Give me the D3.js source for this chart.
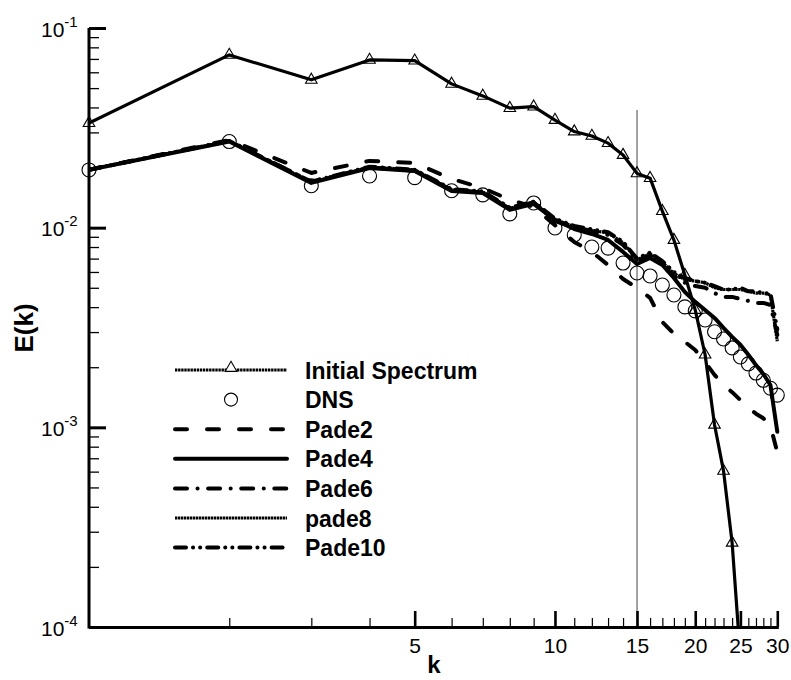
<!DOCTYPE html>
<html><head><meta charset="utf-8">
<script src="https://cdn.jsdelivr.net/npm/d3@7"></script>
<style>
body{margin:0;background:#fff}
text{font-family:"Liberation Sans",Arial,Helvetica,sans-serif;fill:#000}
</style>
</head><body>
<svg id="chart" width="791" height="680"></svg>
<script>
// ---------- data ----------
const kValues = [1,2,3,4,5,6,7,8,9,10,11,12,13,14,15,16,17,18,19,20,21,22,23,24,25,26,27,28,29,30];
const kInitial = [1,2,3,4,5,6,7,8,9,10,11,12,13,14,15,16,17,18,19,20,21,22,23,24,25];
const initialSpectrum = [0.0334,0.0733,0.0550,0.0692,0.0686,0.0525,0.0457,0.0397,0.0404,0.0346,0.0303,0.0288,0.0265,0.0231,0.0187,0.0177,0.0121,0.00867,0.00579,0.00387,0.00231,0.00103,0.000605,0.000264,0.00007];
const dns = [0.01946,0.0270,0.01622,0.01815,0.0178,0.01531,0.01459,0.01172,0.0133,0.00997,0.00919,0.0080,0.0079,0.00665,0.00593,0.00573,0.00516,0.0046,0.00401,0.00383,0.00345,0.00301,0.00277,0.0025,0.00225,0.00208,0.00187,0.00172,0.00157,0.00145];
const pade2 = [0.0195,0.0275,0.0188,0.0216,0.0211,0.01755,0.0158,0.0138,0.0127,0.0103,0.00848,0.00756,0.0065,0.00553,0.00499,0.00445,0.00337,0.00294,0.00268,0.00244,0.00212,0.00183,0.00163,0.0015,0.00137,0.00125,0.00117,0.00111,0.00102,0.00075];
const pade4 = [0.0195,0.0270,0.01675,0.01991,0.01923,0.01527,0.01492,0.01227,0.01315,0.01094,0.00985,0.0093,0.00868,0.00756,0.00658,0.00705,0.0065,0.0056,0.00476,0.00425,0.00387,0.00353,0.00315,0.00284,0.00259,0.00231,0.00205,0.00185,0.00163,0.00095];
const pade6 = [0.0195,0.0272,0.0170,0.0200,0.0193,0.0154,0.0150,0.0124,0.0134,0.0108,0.0100,0.0096,0.0092,0.0082,0.0068,0.0073,0.0065,0.0057,0.0053,0.0051,0.0050,0.0047,0.0045,0.0045,0.0044,0.0043,0.0042,0.0042,0.0041,0.0029];
const pade8 = [0.0195,0.0272,0.0169,0.0201,0.0195,0.0155,0.0151,0.0125,0.0134,0.0110,0.0101,0.0097,0.0094,0.0084,0.0069,0.0074,0.0067,0.0059,0.0055,0.0054,0.0053,0.0050,0.0049,0.0049,0.0049,0.0048,0.0047,0.0047,0.0046,0.0027];
const pade10 = [0.0195,0.0272,0.0170,0.0202,0.0195,0.0156,0.0152,0.0126,0.0135,0.0111,0.0102,0.0098,0.0095,0.0085,0.0070,0.0075,0.0068,0.0060,0.0056,0.0054,0.0053,0.0051,0.0049,0.0049,0.0050,0.0048,0.0048,0.0047,0.0047,0.0031];
const xMajorTicks = [5,10,15,20,25,30];
const xMinorTicks = [2,3,4,6,7,8,9,11,12,13,14,16,17,18,19,21,22,23,24,26,27,28,29];
const yMajorTicks = [1e-1,1e-2,1e-3,1e-4];
const yTickExponents = ["-1","-2","-3","-4"];
const markerK = 15;
const legendLabels = ["Initial Spectrum","DNS","Pade2","Pade4","Pade6","pade8","Pade10"];

// ---------- layout ----------
const svg = d3.select("#chart");
const x = d3.scaleLog().domain([1, 30.15]).range([89, 778.3]);
const y = d3.scaleLog().domain([1e-4, 1e-1]).range([627, 28]);
const yMinorTicks = [];
[1e-4,1e-3,1e-2].forEach(b => { for (let m=2;m<=9;m++) yMinorTicks.push(b*m); });

svg.append("defs").append("clipPath").attr("id","plotClip")
  .append("rect").attr("x",x.range()[0]).attr("y",y.range()[1])
  .attr("width",x.range()[1]-x.range()[0]+2).attr("height",y.range()[0]-y.range()[1]);

// vertical reference line at k=15
svg.append("line")
  .attr("x1",x(markerK)).attr("x2",x(markerK))
  .attr("y1",110).attr("y2",y.range()[0])
  .attr("stroke","#555").attr("stroke-width",1.1);

// ---------- axes ----------
const xMinorAxis = d3.axisBottom(x).tickValues(xMinorTicks).tickSize(-9).tickSizeOuter(0).tickFormat("");
const xMinorG = svg.append("g").attr("transform",`translate(0,${y.range()[0]})`).call(xMinorAxis);
xMinorG.select(".domain").remove();
xMinorG.selectAll(".tick line").attr("stroke-width",1.2);

const xAxis = d3.axisBottom(x).tickValues(xMajorTicks).tickSize(-16).tickSizeOuter(0)
  .tickPadding(11).tickFormat(d3.format("d"));
const xG = svg.append("g").attr("transform",`translate(0,${y.range()[0]})`).call(xAxis);
xG.select(".domain").attr("stroke-width",3);
xG.selectAll(".tick line").attr("stroke-width",2.6);
xG.selectAll(".tick text").attr("font-size",21).attr("font-family",null);

const yMinorAxis = d3.axisLeft(y).tickValues(yMinorTicks).tickSize(-10).tickSizeOuter(0).tickFormat("");
const yMinorG = svg.append("g").attr("transform",`translate(${x.range()[0]},0)`).call(yMinorAxis);
yMinorG.select(".domain").remove();
yMinorG.selectAll(".tick line").attr("stroke-width",1.3);

const yAxis = d3.axisLeft(y).tickValues(yMajorTicks).tickSize(-17).tickSizeOuter(0).tickFormat("");
const yG = svg.append("g").attr("transform",`translate(${x.range()[0]},0)`).call(yAxis);
yG.select(".domain").attr("stroke-width",3).attr("d",`M0,${y.range()[0]+1.5}V${y.range()[1]}`);
yG.selectAll(".tick line").attr("stroke-width",3);
yG.selectAll(".tick text").remove();
yG.selectAll(".tick").each(function(d,i){
  const t = d3.select(this).append("text")
    .attr("x",-48).attr("y",8).attr("text-anchor","start")
    .attr("font-size",21).attr("fill","#000");
  t.append("tspan").text("10");
  t.append("tspan").attr("dy",-10).attr("font-size",15).text(yTickExponents[i]);
});

// axis titles
svg.append("text").attr("x",434).attr("y",673).attr("text-anchor","middle")
  .attr("font-size",24).attr("font-weight","bold").text("k");
svg.append("text").attr("transform","translate(33,328) rotate(-90)").attr("text-anchor","middle")
  .attr("font-size",26).attr("font-weight","bold").text("E(k)");

// ---------- series ----------
const styles = {
  init:  {width:3.2, dash:null, cap:"butt"},
  initLegend: {width:3, dash:"2.4,0.7", cap:"butt"},
  pade2: {width:4, dash:"12,20", cap:"round"},
  pade4: {width:4, dash:null, cap:"round"},
  pade6: {width:4, dash:"12,10.5,0.1,10.5", cap:"round"},
  pade8: {width:3.2, dash:"2.4,0.6", cap:"butt"},
  pade10:{width:4, dash:"11,7,0.1,7,0.1,7", cap:"round"}
};
const line = d3.line().x(d=>x(d.k)).y(d=>y(d.v));
const plot = svg.append("g");
const linesG = plot.append("g").attr("clip-path","url(#plotClip)");

function drawLine(ks, vs, st){
  const data = ks.map((k,i)=>({k, v:vs[i]}));
  linesG.append("path").datum(data).attr("d",line)
    .attr("fill","none").attr("stroke","#000")
    .attr("stroke-width",st.width).attr("stroke-dasharray",st.dash)
    .attr("stroke-linecap",st.cap).attr("stroke-linejoin","round");
}

plot.append("g").selectAll("circle")
  .data(kValues.map((k,i)=>({k, v:dns[i]})))
  .join("circle").attr("cx",d=>x(d.k)).attr("cy",d=>y(d.v)).attr("r",7)
  .attr("fill","none").attr("stroke","#000").attr("stroke-width",1.1);

drawLine(kInitial, initialSpectrum, styles.init);
drawLine(kValues, pade2, styles.pade2);
drawLine(kValues, pade4, styles.pade4);
drawLine(kValues, pade6, styles.pade6);
drawLine(kValues, pade8, styles.pade8);
drawLine(kValues, pade10, styles.pade10);

const tri = d3.symbol().type(d3.symbolTriangle).size(58);
plot.append("g").selectAll("path")
  .data(kInitial.map((k,i)=>({k, v:initialSpectrum[i]})).filter(d=>d.v>=1e-4))
  .join("path").attr("d",tri)
  .attr("transform",d=>`translate(${x(d.k)},${y(d.v)})`)
  .attr("fill","none").attr("stroke","#000").attr("stroke-width",1.1);

// ---------- legend ----------
const leg = svg.append("g");
const legX0 = 175, legX1 = 287, legTextX = 305, legY0 = 370, legDy = 29.6;
const legStyles = [styles.initLegend, null, styles.pade2, styles.pade4, styles.pade6, styles.pade8, styles.pade10];
legendLabels.forEach((lab,i)=>{
  const ly = legY0 + i*legDy;
  const st = legStyles[i];
  if (st) {
    leg.append("line").attr("x1",legX0).attr("x2",legX1).attr("y1",ly).attr("y2",ly)
      .attr("stroke","#000").attr("stroke-width",st.width)
      .attr("stroke-dasharray",st.dash).attr("stroke-linecap",st.cap);
  }
  if (i===0) {
    leg.append("path").attr("d",tri).attr("transform",`translate(${(legX0+legX1)/2},${ly-2})`)
      .attr("fill","#fff").attr("stroke","#000").attr("stroke-width",1.1);
  }
  if (i===1) {
    leg.append("circle").attr("cx",(legX0+legX1)/2).attr("cy",ly).attr("r",6.5)
      .attr("fill","none").attr("stroke","#000").attr("stroke-width",1.1);
  }
  leg.append("text").attr("x",legTextX).attr("y",ly+8.5)
    .attr("font-size",23).attr("font-weight","bold").text(lab);
});
</script>
</body></html>
